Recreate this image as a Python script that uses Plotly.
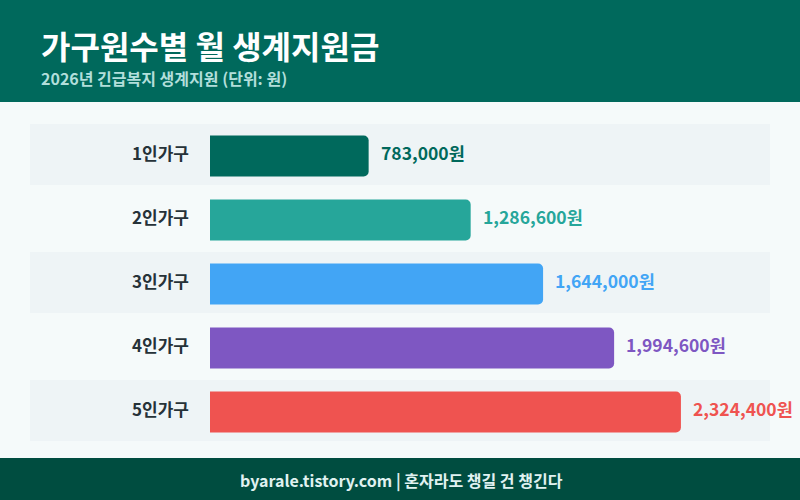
import plotly.graph_objects as go

categories = ["1인가구", "2인가구", "3인가구", "4인가구", "5인가구"]
values = [783000, 1286600, 1644000, 1994600, 2324400]
colors = ["#00695C", "#26A69A", "#42A5F5", "#7E57C2", "#EF5350"]
value_labels = [f"{v:,}원" for v in values]

title_text = "가구원수별 월 생계지원금"
subtitle_text = "2026년 긴급복지 생계지원 (단위: 원)"
footer_text = "byarale.tistory.com | 혼자라도 챙길 건 챙긴다"

FONT = "Noto Sans CJK KR"

# plot area in pixels: x 210..770, y 122..442
def px_x(px):
    return (px - 210) / 560

def px_y(py):
    return (442 - py) / 320

fig = go.Figure()
fig.add_trace(go.Bar(
    x=values, y=categories, orientation="h",
    marker=dict(color=colors, cornerradius=5, line=dict(width=0)),
    width=0.64, offset=-0.29, hoverinfo="skip",
))

shapes = []
for i, c in enumerate(categories):
    if i % 2 == 0:
        shapes.append(dict(type="rect", xref="paper", yref="y", layer="below",
                           x0=px_x(30), x1=px_x(770), y0=i - 0.47, y1=i + 0.485,
                           fillcolor="#EEF4F6", line=dict(width=0)))
shapes.append(dict(type="rect", xref="paper", yref="paper", x0=px_x(0), x1=px_x(800),
                   y0=px_y(102), y1=px_y(0), fillcolor="#00695C", line=dict(width=0), layer="below"))
shapes.append(dict(type="rect", xref="paper", yref="paper", x0=px_x(0), x1=px_x(800),
                   y0=px_y(500), y1=px_y(458), fillcolor="#004D40", line=dict(width=0), layer="below"))

ann = []
for c, v, lab, col in zip(categories, values, value_labels, colors):
    ann.append(dict(x=v, y=c, xref="x", yref="y", text=f"<b>{lab}</b>",
                    showarrow=False, xanchor="left", xshift=10, yshift=2,
                    font=dict(family=FONT, size=17.5, color=col)))
ann.append(dict(x=px_x(39), y=px_y(45), xref="paper", yref="paper", xanchor="left", yanchor="middle",
                text=f"<b>{title_text}</b>", showarrow=False,
                font=dict(family=FONT, size=32, color="#FFFFFF")))
ann.append(dict(x=px_x(39), y=px_y(78), xref="paper", yref="paper", xanchor="left", yanchor="middle",
                text=f"<b>{subtitle_text}</b>", showarrow=False,
                font=dict(family=FONT, size=16, color="#B2DFDB")))
ann.append(dict(x=px_x(401), y=px_y(480), xref="paper", yref="paper", xanchor="center", yanchor="middle",
                text=f"<b>{footer_text}</b>", showarrow=False,
                font=dict(family=FONT, size=16, color="#E0F2F1")))

fig.update_layout(
    width=800, height=500,
    margin=dict(l=210, r=30, t=122, b=58, pad=0),
    paper_bgcolor="#F5FAFA", plot_bgcolor="rgba(0,0,0,0)",
    showlegend=False,
    shapes=shapes,
    annotations=ann,
    xaxis=dict(range=[0, 2764000], visible=False, fixedrange=True),
    yaxis=dict(autorange="reversed", showgrid=False, zeroline=False, showline=False,
               ticks="", ticklabelstandoff=20, fixedrange=True,
               tickfont=dict(family=FONT, size=17, color="#263238", weight="bold")),
    font=dict(family=FONT),
)

fig.write_html("out.html", config={"displayModeBar": False},
               post_script="document.body.style.margin='0';document.body.style.overflow='hidden';")
